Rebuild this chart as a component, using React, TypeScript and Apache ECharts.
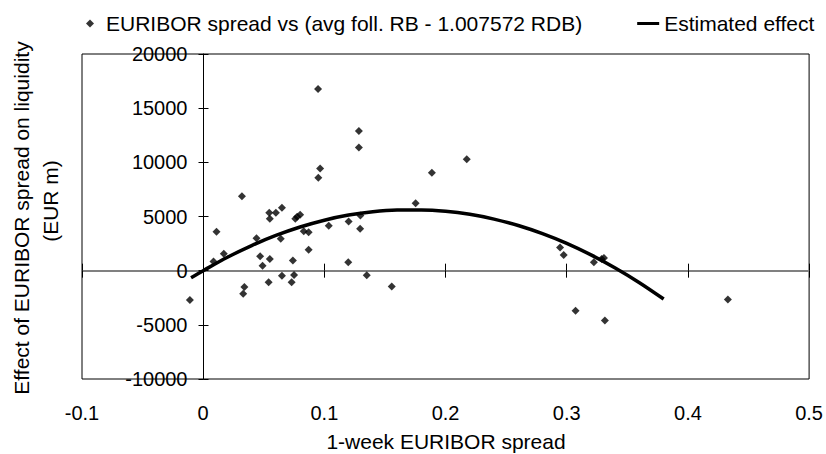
import React, { useEffect, useRef } from "react";
import * as echarts from "echarts";

const scatterName = "EURIBOR spread vs (avg foll. RB - 1.007572 RDB)";
const curveName = "Estimated effect";

const spreadX = [
  -0.011, 0.0085, 0.011, 0.017, 0.032, 0.034, 0.033, 0.044, 0.047, 0.049,
  0.054, 0.0545, 0.055, 0.06, 0.055, 0.064, 0.065, 0.065, 0.074, 0.073,
  0.075, 0.076, 0.0775, 0.08, 0.083, 0.087, 0.087, 0.0965, 0.095, 0.1036,
  0.12, 0.1197, 0.1285, 0.1285, 0.1295, 0.0948, 0.1887, 0.2175, 0.1753, 0.1297,
  0.135, 0.1556, 0.2945, 0.2975, 0.3224, 0.3288, 0.3307, 0.3073, 0.3315, 0.433,
];
const effectY = [
  -2700, 850, 3600, 1570, 6880, -1500, -2130, 2990, 1320, 460,
  -1080, 5340, 4790, 5340, 1080, 2940, 5800, -460, 950, -1080,
  -400, 4790, 4970, 5160, 3640, 3550, 1940, 9420, 8580, 4150,
  4550, 770, 12900, 11360, 3860, 16760, 9050, 10280, 6230, 5100,
  -430, -1450, 2130, 1450, 770, 1080, 1180, -3700, -4600, -2660,
];

const curveX = [
  -0.01, 0, 0.02, 0.04, 0.06, 0.08, 0.1, 0.12, 0.14, 0.16,
  0.18, 0.2, 0.22, 0.24, 0.26, 0.28, 0.3, 0.32, 0.34, 0.36, 0.38,
];
const curveY = [
  -650, 0, 1240, 2320, 3250, 4030, 4660, 5130, 5440, 5590,
  5600, 5480, 5200, 4760, 4170, 3420, 2520, 1460, 250, -1110, -2620,
];

const xTicks = { min: -0.1, max: 0.5, interval: 0.1 };
const yTicks = { min: -10000, max: 20000, interval: 5000 };

const FONT = "Liberation Sans";

// grid geometry
const G_LEFT = 82;
const G_RIGHT = 15;
const G_TOP = 54;
const G_BOTTOM = 75;
const W = 826;
const H = 454;

export default function App() {
  const ref = useRef<HTMLDivElement>(null);

  useEffect(() => {
    document.body.style.margin = "0";
    const chart = echarts.init(ref.current!, null, { renderer: "svg" });

    const plotW = W - G_LEFT - G_RIGHT;
    const plotH = H - G_TOP - G_BOTTOM;
    // offsets that move the zero axes inside the plot
    const yZeroOffset = -((0 - xTicks.min) / (xTicks.max - xTicks.min)) * plotW;
    const xZeroOffset = -((0 - yTicks.min) / (yTicks.max - yTicks.min)) * plotH;

    const baseX = {
      type: "value" as const,
      min: xTicks.min,
      max: xTicks.max,
      interval: xTicks.interval,
      splitLine: { show: false },
    };
    const baseY = {
      type: "value" as const,
      min: yTicks.min,
      max: yTicks.max,
      interval: yTicks.interval,
      splitLine: { show: false },
    };

    chart.setOption({
      animation: false,
      backgroundColor: "#fff",
      textStyle: { fontFamily: FONT },
      grid: {
        left: G_LEFT,
        right: G_RIGHT,
        top: G_TOP,
        bottom: G_BOTTOM,
        show: true,
        borderColor: "#000",
        borderWidth: 1,
        backgroundColor: "transparent",
      },
      legend: {
        left: 86,
        top: 13,
        width: 740,
        padding: 0,
        itemWidth: 22,
        itemHeight: 8,
        itemGap: 55,
        textStyle: { fontSize: 21, color: "#000", fontFamily: FONT },
        data: [
          { name: scatterName, icon: "path://M4,0 L8,4 L4,8 L0,4 Z" },
          { name: curveName, icon: "path://M0,0 L22,0 L22,3 L0,3 Z" },
        ],
      },
      xAxis: [
        {
          ...baseX,
          position: "bottom",
          axisLine: { show: false, onZero: false },
          axisTick: { show: false },
          axisLabel: {
            show: true,
            margin: 24,
            fontSize: 20,
            color: "#000",
            fontFamily: FONT,
            formatter: (v: number) => String(Math.round(v * 10) / 10),
          },
        },
        {
          ...baseX,
          position: "bottom",
          offset: xZeroOffset,
          axisLine: {
            show: true,
            onZero: false,
            lineStyle: { color: "#808080", width: 2 },
          },
          axisTick: { show: true, inside: true, length: 7, lineStyle: { color: "#000", width: 1 } },
          axisLabel: { show: false },
        },
        {
          ...baseX,
          position: "bottom",
          offset: xZeroOffset,
          axisLine: { show: false, onZero: false },
          axisTick: { show: true, inside: false, length: 7, lineStyle: { color: "#000", width: 1 } },
          axisLabel: { show: false },
        },
      ],
      yAxis: [
        {
          ...baseY,
          position: "left",
          offset: yZeroOffset,
          axisLine: {
            show: true,
            onZero: false,
            lineStyle: { color: "#000", width: 1 },
          },
          axisTick: { show: true, inside: true, length: 5, lineStyle: { color: "#000", width: 1 } },
          axisLabel: {
            show: true,
            margin: 16,
            fontSize: 20,
            color: "#000",
            fontFamily: FONT,
            formatter: (v: number) => String(v),
          },
        },
        {
          ...baseY,
          position: "left",
          offset: yZeroOffset,
          axisLine: { show: false, onZero: false },
          axisTick: { show: true, inside: false, length: 5, lineStyle: { color: "#000", width: 1 } },
          axisLabel: { show: false },
        },
      ],
      graphic: [
        {
          type: "text",
          x: 446,
          y: 441,
          style: {
            text: "1-week EURIBOR spread",
            fontSize: 21,
            fontFamily: FONT,
            fill: "#000",
            align: "center",
            verticalAlign: "middle",
          },
        },
        {
          type: "text",
          x: 21,
          y: 218,
          rotation: Math.PI / 2,
          style: {
            text: "Effect of EURIBOR spread on liquidity",
            fontSize: 21,
            fontFamily: FONT,
            fill: "#000",
            align: "center",
            verticalAlign: "middle",
          },
        },
        {
          type: "text",
          x: 50,
          y: 201,
          rotation: Math.PI / 2,
          style: {
            text: "(EUR m)",
            fontSize: 21,
            fontFamily: FONT,
            fill: "#000",
            align: "center",
            verticalAlign: "middle",
          },
        },
      ],
      series: [
        {
          name: scatterName,
          type: "scatter",
          xAxisIndex: 0,
          yAxisIndex: 0,
          symbol: "diamond",
          symbolSize: 8,
          itemStyle: { color: "#000" },
          data: spreadX.map((x, i) => [x, effectY[i]]),
        },
        {
          name: curveName,
          type: "line",
          xAxisIndex: 0,
          yAxisIndex: 0,
          smooth: 0.3,
          symbol: "none",
          lineStyle: { color: "#000", width: 3.5 },
          itemStyle: { color: "#000" },
          data: curveX.map((x, i) => [x, curveY[i]]),
        },
      ],
    });

    return () => chart.dispose();
  }, []);

  return (
    <div
      ref={ref}
      style={{ position: "absolute", left: 0, top: 0, width: W, height: H }}
    />
  );
}
